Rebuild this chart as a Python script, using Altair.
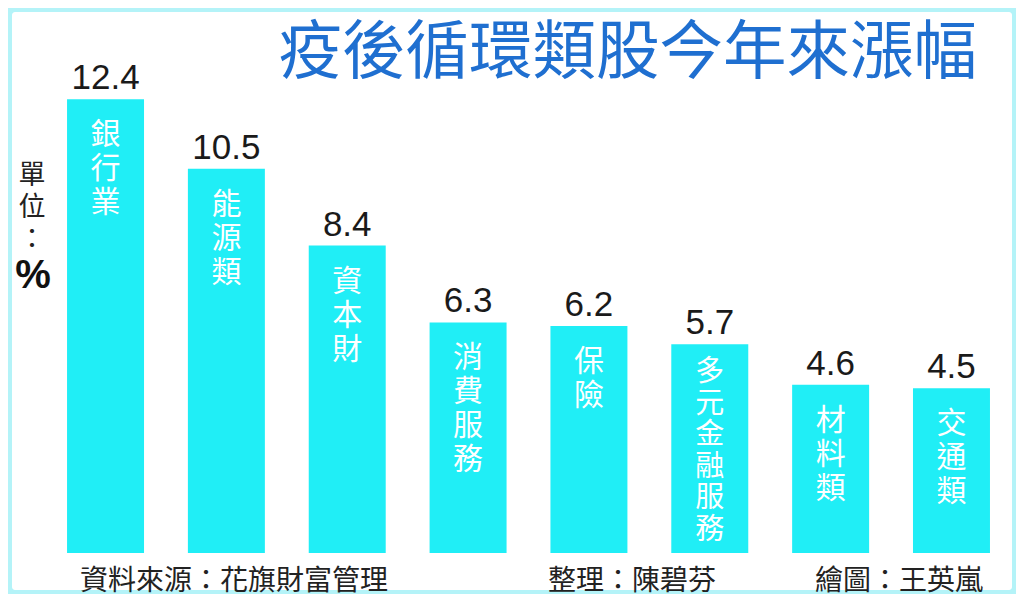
import altair as alt
import pandas as pd

categories = ["銀行業", "能源類", "資本財", "消費服務", "保險", "多元金融服務", "材料類", "交通類"]
values = [12.4, 10.5, 8.4, 6.3, 6.2, 5.7, 4.6, 4.5]

title_text = "疫後循環類股今年來漲幅"
unit_text = "單\n位\n："
unit_symbol = "%"
footer_source = "資料來源：花旗財富管理"
footer_editor = "整理：陳碧芬"
footer_artist = "繪圖：王英嵐"

df = pd.DataFrame({
    "cat": categories,
    "value": values,
    "vlabel": ["\n".join(list(c)) for c in categories],
})

W, H = 1008, 586
CJK = "Noto Sans CJK TC"
BAR = "#20eef6"

x = alt.X("cat:N", sort=categories, axis=None,
          scale=alt.Scale(paddingInner=0.363, paddingOuter=0.352, align=0.694))
y = alt.Y("value:Q", axis=None,
          scale=alt.Scale(domain=[-1.12, 14.89], nice=False, zero=False))

one = pd.DataFrame({"k": [0]})

panel = alt.Chart(one).mark_rect(fill="white", cornerRadius=3).encode(
    x=alt.value(4), x2=alt.value(W - 4), y=alt.value(4), y2=alt.value(H - 4)
)

bars = alt.Chart(df).mark_bar(color=BAR).encode(x=x, y=y)

vals = alt.Chart(df).mark_text(
    baseline="alphabetic", dy=-10, fontSize=35, font="Liberation Sans", color="#1a1a1a"
).encode(x=x, y=y, text=alt.Text("value:Q", format=".1f"))

vlabels_short = alt.Chart(df).transform_filter(
    "length(datum.cat) <= 4"
).mark_text(
    baseline="top", dy=21, fontSize=30, lineHeight=34, lineBreak="\n",
    font=CJK, color="white"
).encode(x=x, y=y, text="vlabel:N")

vlabels_long = alt.Chart(df).transform_filter(
    "length(datum.cat) > 4"
).mark_text(
    baseline="top", dy=14, fontSize=29, lineHeight=31.5, lineBreak="\n",
    font=CJK, color="white"
).encode(x=x, y=y, text="vlabel:N")

title = alt.Chart(one).mark_text(
    align="right", baseline="alphabetic", fontSize=63.5, font=CJK, color="#1f6fd0"
).encode(x=alt.value(969), y=alt.value(65), text=alt.value(title_text))

unit = alt.Chart(one).mark_text(
    align="center", baseline="top", fontSize=27, lineHeight=32, lineBreak="\n",
    font=CJK, color="#222222"
).encode(x=alt.value(24), y=alt.value(155), text=alt.value(unit_text))

unit_pct = alt.Chart(one).mark_text(
    align="center", baseline="alphabetic", fontSize=40, fontWeight="bold",
    font="Liberation Sans", color="#111111"
).encode(x=alt.value(25), y=alt.value(280), text=alt.value(unit_symbol))

def footer(txt, xpos):
    return alt.Chart(one).mark_text(
        align="left", baseline="alphabetic", fontSize=28, font=CJK, color="#222222"
    ).encode(x=alt.value(xpos), y=alt.value(582), text=alt.value(txt))

chart = alt.layer(
    panel, bars, vals, vlabels_short, vlabels_long, title, unit, unit_pct,
    footer(footer_source, 72), footer(footer_editor, 540), footer(footer_artist, 807),
).properties(
    width=W, height=H, padding=0, background="#b4f3f8",
    autosize=alt.AutoSizeParams(type="none"),
).configure_view(stroke=None)

chart.save("out.html", embed_options={"renderer": "svg", "actions": False})
